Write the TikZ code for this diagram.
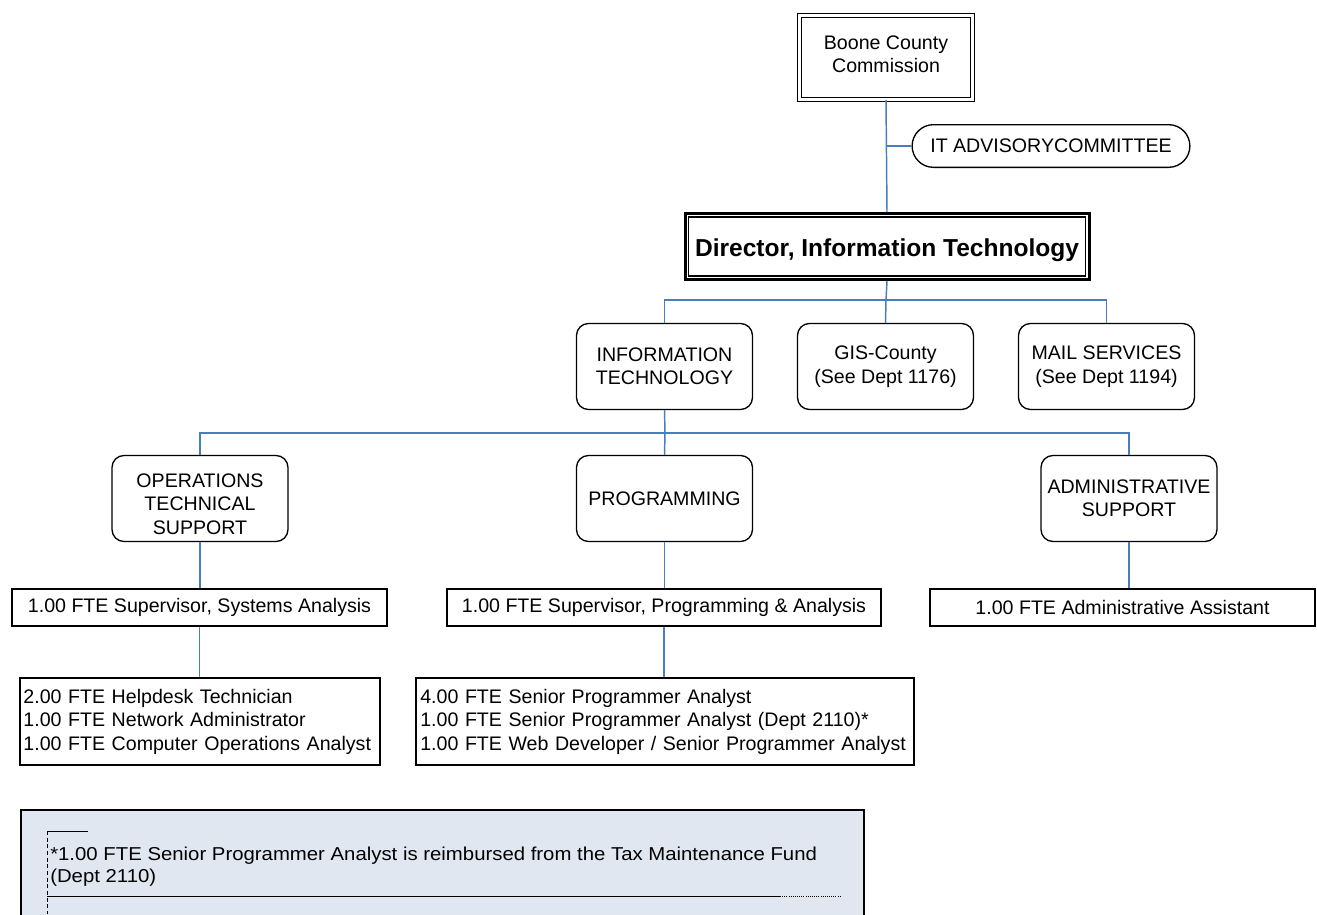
\documentclass[tikz,border=0pt]{standalone}
\usepackage{fontspec}
\setmainfont{Liberation Sans}
\newfontfamily\notefont[FakeStretch=1.09]{Liberation Sans}
\usetikzlibrary{shapes.misc, positioning, calc}
\definecolor{linkblue}{HTML}{4A7EBB}
\definecolor{notefill}{HTML}{E1E7F1}

\begin{document}
\begin{tikzpicture}[x=0.75pt, y=-0.75pt, font=\fontsize{14.7}{17.6}\selectfont]
        \tikzstyle{conn} = [linkblue, line width=1.1pt]
        \tikzstyle{unit} = [rectangle, rounded corners=9pt, draw=black, line width=1pt, minimum width=132pt, minimum height=64.5pt, align=center, inner sep=2pt]
        \tikzstyle{staff} = [rectangle, draw=black, line width=1.5pt, minimum height=28pt, inner sep=3pt]
        \tikzstyle{roster} = [rectangle, draw=black, line width=1.5pt, minimum height=65.5pt, align=left, inner sep=3pt]

        \useasboundingbox (0,0) rectangle (1317,914);

        % Commission and director
        \node (boone) [rectangle, draw, double, double distance=2pt, line width=0.7pt, minimum width=130pt, minimum height=63pt, text height=23pt, align=center] at (886,57.5) {Boone County\\Commission};
        \node (adv) [rounded rectangle, draw, line width=1pt, minimum width=215pt, minimum height=32pt] at (1051,146) {IT ADVISORYCOMMITTEE};
        \node (dir) [rectangle, draw, line width=2.25pt, minimum width=303pt, minimum height=49.5pt, text height=19.4pt, font=\fontsize{18.4}{20}\selectfont\bfseries] at (887,246.5) {Director, Information Technology};
        \draw [line width=0.8pt] ($(dir.north west)+(5,5)$) rectangle ($(dir.south east)+(-5,-5)$);

        % Divisions
        \node (it) [unit] at (664.5,366.5) {INFORMATION\\TECHNOLOGY};
        \node (gis) [unit] at (885.5,366.5) {GIS-County\\(See Dept 1176)};
        \node (mail) [unit] at (1106.5,366.5) {MAIL SERVICES\\(See Dept 1194)};

        % Sections
        \node (ops) [unit, text height=54pt] at (200,498.5) {OPERATIONS\\TECHNICAL\\SUPPORT};
        \node (prog) [unit] at (664.5,498.5) {PROGRAMMING};
        \node (adm) [unit] at (1129,498.5) {ADMINISTRATIVE\\SUPPORT};

        % Staff
        \node (sup1) [staff, minimum width=281pt] at (199.5,607.5) {1.00 FTE Supervisor, Systems Analysis};
        \node (sup2) [staff, minimum width=325.5pt] at (664,607.5) {1.00 FTE Supervisor, Programming \& Analysis};
        \node (sup3) [staff, minimum width=288.5pt] at (1122.5,607.5) {1.00 FTE Administrative Assistant};
        \node (list1) [roster, text width=264pt] at (199.5,721.5) {2.00 FTE Helpdesk Technician\\1.00 FTE Network Administrator\\1.00 FTE Computer Operations Analyst};
        \node (list2) [roster, text width=367pt] at (665,721.5) {4.00 FTE Senior Programmer Analyst\\1.00 FTE Senior Programmer Analyst (Dept 2110)*\\1.00 FTE Web Developer / Senior Programmer Analyst};

        % Connectors
        \coordinate (j0) at (boone.south |- adv.west);
        \coordinate (j1) at (886,300);
        \coordinate (j2) at (665,433);
        \draw [conn] (boone.south) -- (dir.north);
        \draw [conn] (j0) -- (adv.west);
        \draw [conn] (dir.south) -- (j1);
        \draw [conn] (j1) -| (it.north);
        \draw [conn] (j1) -- (gis.north);
        \draw [conn] (j1) -| (mail.north);
        \draw [conn] (it.south) -- (j2);
        \draw [conn] (j2) -| (ops.north);
        \draw [conn] (j2) -- (prog.north);
        \draw [conn] (j2) -| (adm.north);
        \draw [conn] (ops.south) -- (ops.south |- sup1.north);
        \draw [conn] (prog.south) -- (prog.south |- sup2.north);
        \draw [conn] (adm.south) -- (adm.south |- sup3.north);
        \draw [conn] (sup1.south) -- (sup1.south |- list1.north);
        \draw [conn] (sup2.south) -- (sup2.south |- list2.north);

        % Footnote
        \clip (0,0) rectangle (1317,914);
        \fill [notefill] (21,810) rectangle (864,940);
        \draw [line width=1.1pt] (21,940) -- (21,810) -- (864,810) -- (864,940);
        \draw [line width=0.6pt] (47,831) -- (88,831);
        \draw [line width=0.6pt, densely dashed] (47,831) -- (47,914);
        \node (note) [anchor=north west, inner sep=0pt, align=left, font=\notefont\fontsize{14}{16.5}\selectfont] at (50,847) {*1.00 FTE Senior Programmer Analyst is reimbursed from the Tax Maintenance Fund\\(Dept 2110)};
        \draw [line width=0.6pt] (47,896) -- (780,896);
        \draw [line width=0.6pt, densely dotted] (780,896) -- (841,896);
\end{tikzpicture}
\end{document}
